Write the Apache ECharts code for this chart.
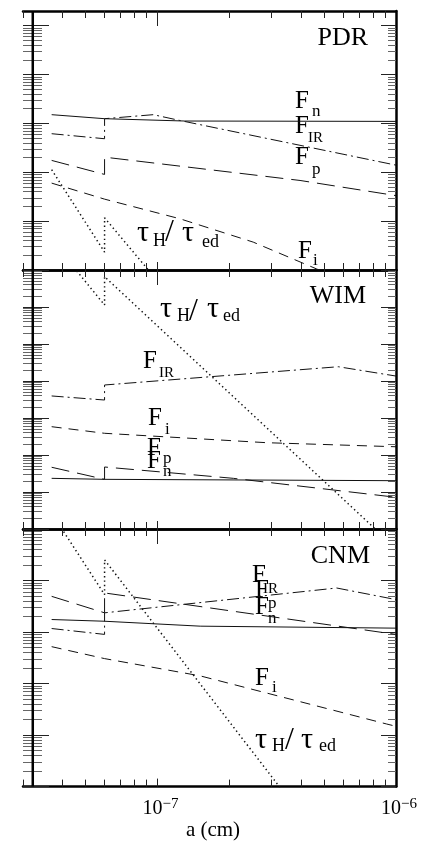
<!DOCTYPE html>
<html><head><meta charset="utf-8">
<script src="https://cdn.jsdelivr.net/npm/echarts@6/dist/echarts.min.js"></script>
<style>html,body{margin:0;padding:0;background:#fff}#c{width:425px;height:842px}</style>
</head><body><div id="c"></div>
<script>
// ---------- data ----------
const xMin = 2.73e-8, xMax = 1e-6;
const aEdge = 3e-8;                 // left boundary line of the plots
const xMinorTicks = [2.73e-8, 4e-8, 5e-8, 6e-8, 7e-8, 8e-8, 9e-8, 2e-7, 3e-7, 4e-7, 5e-7, 6e-7, 7e-7, 8e-7, 9e-7];
const xMajorTicks = [1e-7];
const xLabelTicks = [1e-7, 1e-6];
const xTitle = 'a (cm)';

const panelNames = ['PDR', 'WIM', 'CNM'];
const yRanges = [[1e-3, 200], [1e-2, 1e5], [1e-3, 1e2]];

// PDR
const pdrFn  = [[3.6e-8, 1.51], [6e-8, 1.25], [1.3e-7, 1.12], [1e-6, 1.10]];
const pdrFIR = [[3.6e-8, 0.616], [6e-8, 0.486], [6e-8, 1.25], [9.6e-8, 1.51], [1.24e-7, 1.15], [1e-6, 0.140]];
const pdrFp  = [[3.6e-8, 0.175], [6e-8, 0.0904], [6e-8, 0.204], [3.96e-7, 0.068], [1e-6, 0.0333]];
const pdrFi  = [[3.6e-8, 0.060], [6e-8, 0.0282], [1.24e-7, 0.0112], [2.52e-7, 3.72e-3], [4.65e-7, 1.05e-3], [1e-6, 2.1e-4]];
const pdrTau = [[3.6e-8, 0.113], [6e-8, 2.32e-3], [6e-8, 0.0117], [1e-7, 6.0e-4]];
// WIM
const wimFn  = [[3.6e-8, 0.234], [6e-8, 0.220], [1e-6, 0.202]];
const wimFIR = [[3.6e-8, 39.4], [6e-8, 30.6], [6e-8, 78], [5.73e-7, 243], [1e-6, 136]];
const wimFp  = [[3.6e-8, 0.466], [6e-8, 0.220], [6e-8, 0.474], [2.08e-7, 0.234], [1e-6, 0.072]];
const wimFi  = [[3.6e-8, 5.82], [6e-8, 3.86], [2.87e-7, 2.15], [1e-6, 1.67]];
const wimTau = [[3.6e-8, 6.4e5], [6e-8, 1.13e4], [6e-8, 6.6e4], [1e-6, 3.0e-3]];
// CNM
const cnmFn  = [[3.6e-8, 1.75], [6e-8, 1.62], [1.51e-7, 1.30], [1e-6, 1.19]];
const cnmFIR = [[3.6e-8, 1.17], [6e-8, 0.90], [6e-8, 2.36], [5.64e-7, 7.16], [1e-6, 4.26]];
const cnmFp  = [[3.6e-8, 4.93], [6e-8, 2.36], [6e-8, 5.74], [1e-6, 0.90]];
const cnmFi  = [[3.6e-8, 0.52], [6e-8, 0.305], [1.51e-7, 0.141], [9.14e-7, 0.0164], [1e-6, 0.0148]];
const cnmTau = [[3.6e-8, 203], [6e-8, 5.32], [6e-8, 25.2], [3.3e-7, 9e-4]];

const panelSeries = [
  {Fn: pdrFn, FIR: pdrFIR, Fp: pdrFp, Fi: pdrFi, tau: pdrTau},
  {Fn: wimFn, FIR: wimFIR, Fp: wimFp, Fi: wimFi, tau: wimTau},
  {Fn: cnmFn, FIR: cnmFIR, Fp: cnmFp, Fi: cnmFi, tau: cnmTau}
];

// ---------- styling / layout ----------
const FONT = '"Liberation Serif", "DejaVu Serif", serif';
const gridTops = [11, 270, 529];
const gridH = 259;
const lineTypes = {
  Fn: {type: 'solid', width: 1},
  FIR: {type: [12, 4, 2, 4], width: 1},
  Fp: {type: [18, 8], width: 1},
  Fi: {type: [10, 7], width: 1},
  tau: {type: [1.4, 3], width: 1.5}
};

function decadeTicks(r) {
  const maj = [], min = [];
  const lo = Math.floor(Math.log10(r[0]) + 1e-9), hi = Math.ceil(Math.log10(r[1]) - 1e-9);
  for (let n = lo; n <= hi; n++) {
    const d = Math.pow(10, n);
    if (d >= r[0] * 0.999 && d <= r[1] * 1.001) maj.push(d);
    for (let k = 2; k <= 9; k++) {
      const v = k * d;
      if (v > r[0] && v < r[1] * 0.999) min.push(v);
    }
  }
  return {maj, min};
}

const grid = [], xAxis = [], yAxis = [], series = [];
panelNames.forEach((nm, g) => {
  grid.push({left: 23, right: 29, top: gridTops[g], height: gridH});
  const xBase = xAxis.length, yBase = yAxis.length;
  const mkX = (pos, ticks, len, line, withLabels) => {
    const ax = {
      type: 'log', logBase: 10, gridIndex: g, position: pos, min: xMin, max: xMax,
      axisLine: {show: line, onZero: false, lineStyle: {color: '#000', width: 2.5}},
      axisTick: {show: true, inside: true, length: len, customValues: ticks, lineStyle: {color: '#222', width: 1}},
      axisLabel: {show: false},
      splitLine: {show: false}, minorTick: {show: false}, minorSplitLine: {show: false}
    };
    if (withLabels) {
      ax.axisLabel = {
        show: true, customValues: xLabelTicks, margin: 10,
        formatter: v => '{b|10}{s|\u2212' + Math.abs(Math.round(Math.log10(v))) + '}',
        rich: {
          b: {fontFamily: FONT, fontSize: 20, color: '#000', padding: [0, 0, 0, 6]},
          s: {fontFamily: FONT, fontSize: 15, color: '#000', padding: [0, 0, 10, 0]}
        }
      };
      ax.name = xTitle;
      ax.nameLocation = 'middle';
      ax.nameGap = 22;
      ax.nameTextStyle = {fontFamily: FONT, fontSize: 21, color: '#000', padding: [0, 0, 0, 7]};
    }
    return ax;
  };
  xAxis.push(mkX('bottom', xMinorTicks, 7, true, g === 2));
  xAxis.push(mkX('bottom', xMajorTicks, 8, false, false));
  xAxis.push(mkX('top', xMinorTicks, 7, true, false));
  xAxis.push(mkX('top', xMajorTicks, 15, false, false));

  const r = yRanges[g];
  const t = decadeTicks(r);
  const mkY = (pos, ticks, len, line, col) => ({
    type: 'log', logBase: 10, gridIndex: g, position: pos, min: r[0], max: r[1],
    axisLine: {show: line, onZero: false, lineStyle: {color: '#000', width: 2.5}},
    axisTick: {show: true, inside: true, length: len, customValues: ticks, lineStyle: {color: col, width: 1}},
    axisLabel: {show: false},
    splitLine: {show: false}, minorTick: {show: false}, minorSplitLine: {show: false}
  });
  yAxis.push(mkY('left', t.maj, 26, false, '#222'));
  yAxis.push(mkY('left', t.min, 19, false, '#666'));
  yAxis.push(mkY('right', t.maj, 15, true, '#222'));
  yAxis.push(mkY('right', t.min, 8, false, '#666'));

  // left boundary line at a = 3e-8
  series.push({
    type: 'line', xAxisIndex: xBase, yAxisIndex: yBase,
    data: [[aEdge, r[0]], [aEdge, r[1]]],
    showSymbol: false, symbol: 'none', clip: false, silent: true, animation: false,
    lineStyle: {color: '#000', width: 2.5, type: 'solid'}
  });

  const ps = panelSeries[g];
  ['Fn', 'FIR', 'Fp', 'Fi', 'tau'].forEach((key) => {
    series.push({
      type: 'line', xAxisIndex: xBase, yAxisIndex: yBase, data: ps[key],
      showSymbol: false, symbol: 'none', clip: true, silent: true, animation: false,
      lineStyle: {color: '#111', width: lineTypes[key].width, type: lineTypes[key].type}
    });
  });
});

// text labels: [text, x, yCenter, fontSize, align]
const textLayout = [
  ['PDR', 368, 38, 26, 'right'], ['WIM', 366, 296, 26, 'right'], ['CNM', 370, 556, 26, 'right'],
  // PDR
  ['F', 295, 101.5, 25], ['n', 312, 112, 17],
  ['F', 295, 126, 25], ['IR', 308, 138, 15],
  ['F', 295, 157.5, 25], ['p', 312, 170, 17],
  ['F', 298, 251, 25], ['i', 313, 261, 17],
  ['\u03C4', 137, 233, 30], ['H', 153, 241.5, 18], ['/', 165, 232.5, 32], ['\u03C4', 182, 233, 30], ['ed', 202, 242, 18],
  // WIM
  ['\u03C4', 160, 309, 30], ['H', 177, 316.5, 18], ['/', 189, 312, 32], ['\u03C4', 207, 309, 30], ['ed', 223, 316, 18],
  ['F', 143, 361.5, 25], ['IR', 159, 373, 15],
  ['F', 148, 418.5, 25], ['i', 165, 430, 17],
  ['F', 147, 448.5, 25], ['p', 163, 459, 17],
  ['F', 147, 461.5, 25], ['n', 163, 472, 17],
  // CNM
  ['F', 252, 575, 25], ['IR', 263, 589, 15],
  ['F', 255, 590.5, 25], ['p', 268, 603.5, 17],
  ['F', 255, 607, 25], ['n', 268, 619, 17],
  ['F', 255, 678.5, 25], ['i', 272, 688, 17],
  ['\u03C4', 255, 740, 30], ['H', 272, 746.5, 18], ['/', 285, 740.5, 32], ['\u03C4', 301, 740, 30], ['ed', 319, 746, 18]
];
const graphic = textLayout.map(d => ({
  type: 'text', x: d[1], y: d[2], silent: true,
  style: {text: d[0], fontFamily: FONT, fontSize: d[3], fill: '#000', align: d[4] || 'left', verticalAlign: 'middle'}
}));

const chart = echarts.init(document.getElementById('c'), null, {renderer: 'canvas'});
chart.setOption({
  backgroundColor: '#fff',
  animation: false,
  grid, xAxis, yAxis, series, graphic
});
</script></body></html>
